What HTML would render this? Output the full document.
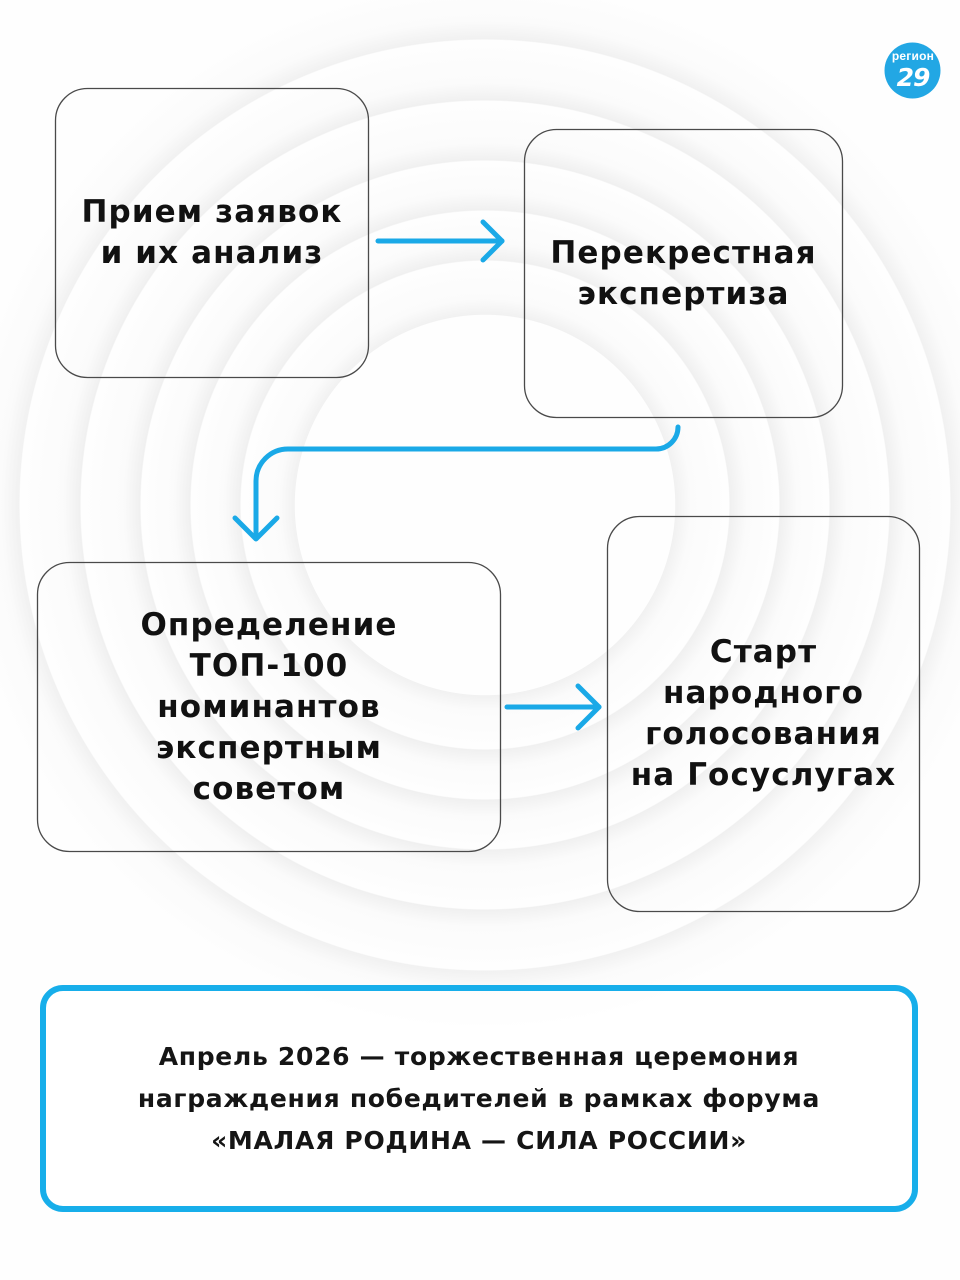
<!DOCTYPE html>
<html>
<head>
<meta charset="utf-8">
<style>
  html,body{margin:0;padding:0;}
  body{width:960px;height:1280px;position:relative;overflow:hidden;background:#fff;
    font-family:"DejaVu Sans","Liberation Sans",sans-serif;}
  .bg{position:absolute;left:0;top:0;width:960px;height:1280px;
    background:radial-gradient(circle at 485px 505px,
      #fefefe 0px,#fefefe 190px,#f1f1f1 190.5px,#fbfbfb 206px,#fefefe 244px,
      #f0f0f0 245px,#fbfbfb 262px,#fefefe 294px,
      #f0f0f0 295px,#fbfbfb 312px,#fefefe 344px,
      #f0f0f0 345px,#fbfbfb 362px,#fefefe 404px,
      #f0f0f0 405px,#fbfbfb 422px,#fefefe 465px,
      #f1f1f1 466px,#fbfbfb 484px,#fefefe 525px,#fefefe 100%);}
  svg{position:absolute;left:0;top:0;}
  .t{position:absolute;display:flex;align-items:center;justify-content:center;text-align:center;
    font-weight:bold;color:#111;font-size:31px;line-height:41px;letter-spacing:1.1px;}
  .b{position:absolute;display:flex;align-items:center;justify-content:center;text-align:center;
    font-weight:bold;color:#151515;font-size:25px;line-height:42px;letter-spacing:0.7px;}
  .logo1{position:absolute;left:885px;top:49px;width:56px;text-align:center;color:#fff;
    font-family:"Liberation Sans",sans-serif;font-size:12px;font-weight:bold;line-height:14px;letter-spacing:0.2px;}
  .logo2{position:absolute;left:885px;top:64px;width:56px;text-align:center;color:#fff;
    font-family:"DejaVu Sans",sans-serif;font-size:25px;font-weight:bold;line-height:28px;letter-spacing:-1px;font-style:italic;}
</style>
</head>
<body>
<div class="bg"></div>
<svg width="960" height="1280" viewBox="0 0 960 1280">
  <g fill="none" stroke="#4a4a4a" stroke-width="1.3">
    <rect x="55.5" y="88.5" width="313" height="289" rx="32"/>
    <rect x="524.5" y="129.5" width="318" height="288" rx="32"/>
    <rect x="37.5" y="562.5" width="463" height="289" rx="32"/>
    <rect x="607.5" y="516.5" width="312" height="395" rx="32"/>
  </g>
  <rect x="43" y="988" width="872" height="221" rx="20" fill="#fff" fill-opacity="0.6" stroke="#17aeea" stroke-width="6"/>
  <g fill="none" stroke="#1aa9e7" stroke-width="5" stroke-linecap="round" stroke-linejoin="round">
    <path d="M378 241 H502"/>
    <path d="M483 222 L502 241 L483 260"/>
    <path d="M678 427 A22 22 0 0 1 656 449 H288 A32 32 0 0 0 256 481 V538"/>
    <path d="M235 518 L256 539 L277 518"/>
    <path d="M507 707 H599"/>
    <path d="M578 686 L599 707 L578 728"/>
  </g>
  <circle cx="912.5" cy="70.5" r="28" fill="#22a7e4"/>
</svg>
<div class="logo1">регион</div>
<div class="logo2">29</div>

<div class="t" style="left:55px;top:88px;width:314px;height:290px;">Прием заявок<br>и их анализ</div>
<div class="t" style="left:524px;top:129px;width:319px;height:289px;">Перекрестная<br>экспертиза</div>
<div class="t" style="left:37px;top:562px;width:464px;height:290px;">Определение<br>ТОП-100<br>номинантов<br>экспертным<br>советом</div>
<div class="t" style="left:607px;top:516px;width:313px;height:396px;">Старт<br>народного<br>голосования<br>на Госуслугах</div>

<div class="b" style="left:40px;top:985px;width:878px;height:227px;">Апрель 2026 — торжественная церемония<br>награждения победителей в рамках форума<br>«МАЛАЯ РОДИНА — СИЛА РОССИИ»</div>
</body>
</html>
